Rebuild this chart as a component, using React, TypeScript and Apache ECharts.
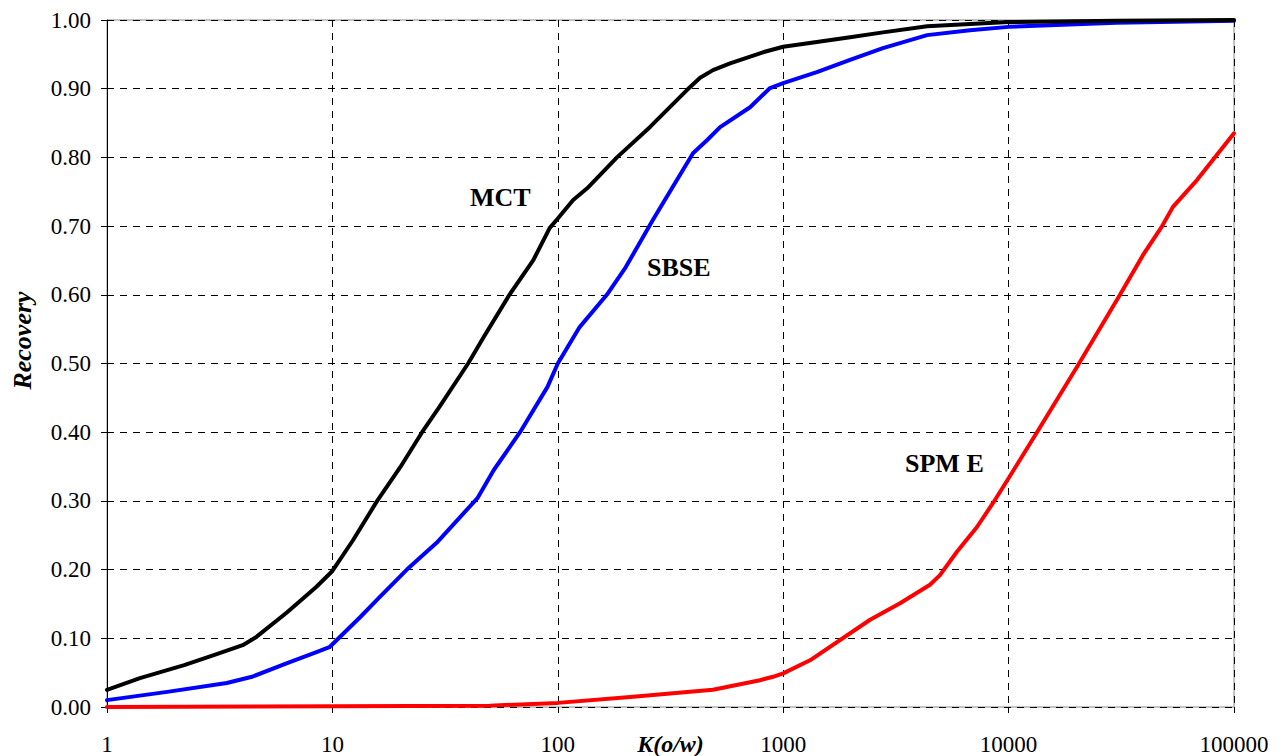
import React, { useEffect, useRef } from "react";
import * as echarts from "echarts";

// MCT
const mctK = [1, 1.4, 2.2, 3, 4, 4.6, 6.3, 8.5, 10, 12.3, 15.8, 20, 25, 30, 40, 47, 61, 78, 92, 100, 117, 135, 183, 256, 374, 428, 488, 581, 813, 1000, 1410, 1980, 2770, 4350, 6740, 10000, 30000, 100000];
const mctR = [0.025, 0.042, 0.061, 0.076, 0.09, 0.102, 0.138, 0.175, 0.198, 0.242, 0.3, 0.349, 0.4, 0.438, 0.5, 0.539, 0.6, 0.651, 0.697, 0.711, 0.738, 0.755, 0.8, 0.844, 0.898, 0.916, 0.927, 0.937, 0.953, 0.961, 0.968, 0.975, 0.982, 0.991, 0.994, 0.997, 0.999, 1.0];

// SBSE
const sbseK = [1, 1.85, 3.4, 4.4, 6.3, 8.5, 9.7, 13.3, 16, 21.4, 29, 44, 52, 68, 90, 100, 125, 165, 200, 264, 398, 459, 525, 713, 874, 1000, 1410, 1980, 2770, 4350, 6740, 10000, 30000, 100000];
const sbseR = [0.01, 0.022, 0.035, 0.044, 0.064, 0.08, 0.087, 0.131, 0.158, 0.2, 0.239, 0.304, 0.345, 0.4, 0.466, 0.5, 0.553, 0.6, 0.64, 0.709, 0.806, 0.825, 0.844, 0.873, 0.901, 0.908, 0.924, 0.942, 0.959, 0.978, 0.985, 0.99, 0.996, 0.999];

// SPM E
const spmeK = [1, 10, 50, 100, 216, 488, 789, 901, 1000, 1315, 2430, 3300, 4480, 4960, 5900, 7240, 8530, 10000, 13370, 20100, 31200, 39500, 48000, 53600, 68500, 100000];
const spmeR = [0, 0.001, 0.002, 0.006, 0.015, 0.025, 0.039, 0.044, 0.049, 0.068, 0.127, 0.151, 0.178, 0.192, 0.226, 0.262, 0.297, 0.333, 0.4, 0.495, 0.6, 0.658, 0.7, 0.728, 0.767, 0.835];

const seriesNames = ["MCT", "SBSE", "SPM E"];
const seriesColors = ["#000000", "#0000ff", "#ff0000"];

const FONT = "'Liberation Serif', 'Times New Roman', Times, serif";

export default function App() {
  const ref = useRef<HTMLDivElement>(null);
  useEffect(() => {
    const chart = echarts.init(ref.current!, null, { renderer: "svg" });
    const pairs = (ks: number[], rs: number[]) => ks.map((k, i) => [k, rs[i]]);
    const data = [pairs(mctK, mctR), pairs(sbseK, sbseR), pairs(spmeK, spmeR)];
    chart.setOption({
      animation: false,
      backgroundColor: "#ffffff",
      textStyle: { fontFamily: FONT },
      grid: {
        left: 107,
        right: 48,
        top: 20,
        bottom: 49,
        outerBoundsMode: "none",
        containLabel: false,
        show: true,
        borderColor: "#888888",
        borderWidth: 1,
      },
      xAxis: {
        type: "log",
        logBase: 10,
        min: 1,
        max: 100000,
        name: "K(o/w)",
        nameLocation: "middle",
        nameGap: 25,
        nameMoveOverlap: false,
        nameTextStyle: { fontFamily: FONT, fontSize: 24, fontWeight: "bold", fontStyle: "italic", color: "#000", verticalAlign: "top", lineHeight: 24 },
        axisLine: { show: false },
        axisTick: { show: true, length: 6, lineStyle: { color: "#000" } },
        axisLabel: { fontFamily: FONT, fontSize: 23, color: "#000", margin: 26, formatter: (v: number) => String(Math.round(v)) },
        splitLine: { show: true, lineStyle: { color: "#000", type: [7, 6], width: 1 } },
        minorTick: { show: false },
      },
      yAxis: {
        type: "value",
        min: 0,
        max: 1,
        interval: 0.1,
        name: "Recovery",
        nameLocation: "middle",
        nameGap: 85,
        nameRotate: 90,
        nameMoveOverlap: false,
        nameTextStyle: { fontFamily: FONT, fontSize: 26, fontWeight: "bold", fontStyle: "italic", color: "#000", verticalAlign: "middle", padding: [0, 0, 0, 46] },
        axisLine: { show: true, lineStyle: { color: "#000", width: 1 } },
        axisTick: { show: true, length: 6, lineStyle: { color: "#000" } },
        axisLabel: { fontFamily: FONT, fontSize: 23, color: "#000", margin: 16, formatter: (v: number) => v.toFixed(2) },
        splitLine: { show: true, lineStyle: { color: "#000", type: [7, 6], width: 1 } },
      },
      series: data.map((d, i) => ({
        name: seriesNames[i],
        type: "line",
        data: d,
        showSymbol: false,
        smooth: false,
        lineStyle: { color: seriesColors[i], width: 4, join: "round", cap: "round" },
        itemStyle: { color: seriesColors[i] },
        z: 5 - i,
      })),
      graphic: [
        { type: "text", left: 470, top: 184, style: { text: seriesNames[0], font: `bold 26px ${FONT}`, fill: "#000" } },
        { type: "text", left: 647, top: 254, style: { text: seriesNames[1], font: `bold 26px ${FONT}`, fill: "#000" } },
        { type: "text", left: 905, top: 450, style: { text: seriesNames[2], font: `bold 26px ${FONT}`, fill: "#000" } },
      ],
    });
    return () => chart.dispose();
  }, []);
  return <div ref={ref} style={{ width: 1282, height: 756, position: "absolute", left: 0, top: 0 }} />;
}
